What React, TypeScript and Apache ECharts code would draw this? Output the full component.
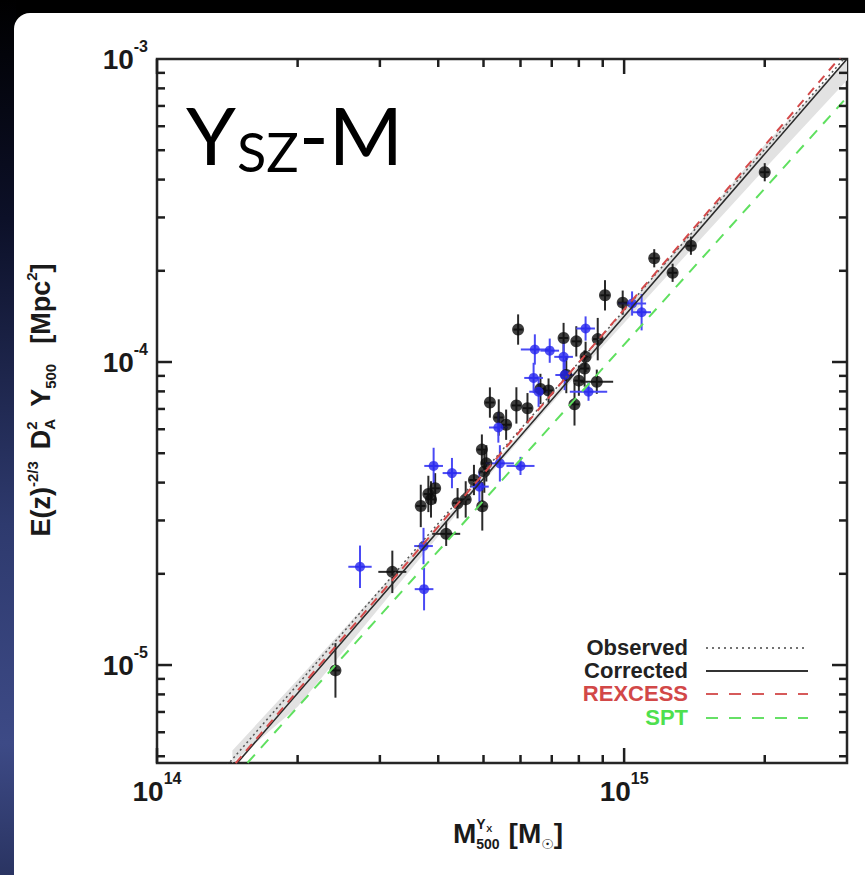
import React, { useEffect, useRef } from "react";
import * as echarts from "echarts";

// ---- axis extents ----
const X_MIN = 1e14;
const X_MAX = 3e15;
const Y_MIN = 4.75e-6;
const Y_MAX = 1e-3;

// ---- black points (mass in 1e14 Msun, Y in 1e-5 Mpc^2, errors in dex) ----
const blackMass14 = [2.41, 3.19, 3.67, 3.81, 3.86, 3.94, 4.16, 4.40, 4.58, 4.77, 4.97, 4.96, 5.02, 5.07, 5.16, 5.39, 5.59, 5.88, 5.93, 6.21, 6.62, 6.89, 7.42, 7.52, 7.83, 7.90, 8.00, 8.23, 8.27, 8.74, 8.78, 9.10, 9.93, 11.6, 12.7, 13.9, 20.0];
const blackY5 = [0.96, 2.03, 3.35, 3.67, 3.52, 3.83, 2.71, 3.42, 3.52, 4.08, 3.34, 5.14, 4.35, 4.63, 7.35, 6.56, 6.21, 7.19, 12.8, 7.04, 8.15, 8.05, 12.0, 9.06, 7.25, 11.7, 8.68, 9.52, 10.4, 8.61, 11.9, 16.6, 15.7, 22.0, 19.7, 24.2, 42.3];
const blackYErr = [0.09, 0.07, 0.07, 0.06, 0.06, 0.05, 0.04, 0.05, 0.06, 0.05, 0.08, 0.05, 0.07, 0.06, 0.05, 0.06, 0.05, 0.06, 0.05, 0.05, 0.05, 0.04, 0.05, 0.06, 0.07, 0.05, 0.05, 0.06, 0.05, 0.04, 0.07, 0.05, 0.04, 0.03, 0.03, 0.03, 0.03];
const blackXErr = [0.01, 0.03, 0.01, 0.01, 0.01, 0.01, 0.03, 0.01, 0.01, 0.01, 0.01, 0.01, 0.01, 0.01, 0.01, 0.01, 0.01, 0.01, 0.01, 0.01, 0.01, 0.01, 0.01, 0.01, 0.01, 0.01, 0.01, 0.01, 0.01, 0.035, 0.01, 0.01, 0.01, 0.01, 0.01, 0.01, 0.01];

// ---- blue points ----
const blueMass14 = [2.72, 3.72, 3.73, 3.91, 4.28, 4.90, 5.38, 5.42, 6.00, 6.44, 6.40, 6.93, 6.56, 7.42, 7.46, 8.27, 8.39, 10.4, 10.9];
const blueY5 = [2.11, 2.47, 1.78, 4.54, 4.30, 3.88, 6.08, 4.63, 4.54, 11.0, 8.86, 10.9, 7.98, 10.4, 9.06, 12.9, 7.98, 15.6, 14.6];
const blueYErr = [0.07, 0.06, 0.07, 0.06, 0.05, 0.05, 0.05, 0.06, 0.03, 0.05, 0.05, 0.04, 0.05, 0.05, 0.05, 0.04, 0.03, 0.04, 0.06];
const blueXErr = [0.025, 0.02, 0.02, 0.02, 0.02, 0.02, 0.02, 0.03, 0.03, 0.03, 0.02, 0.02, 0.02, 0.02, 0.02, 0.02, 0.04, 0.03, 0.02];

// ---- relations: end points ----
const lineMassEnds = [1.2e14, 3e15];
const observedY = [3.5e-6, 1.03e-3];
const correctedY = [3.25e-6, 1.0e-3];
const rexcessY = [3.28e-6, 1.076e-3];
const sptY = [3.03e-6, 7.48e-4];

// ---- confidence band around corrected fit ----
const bandMass = [1.45e14, 2e14, 3e14, 4.5e14, 6e14, 8e14, 1.2e15, 2e15, 3e15];
const bandHi = [5.22e-6, 8.95e-6, 1.78e-5, 3.51e-5, 5.83e-5, 9.8e-5, 2.05e-4, 5.21e-4, 1.08e-3];
const bandLo = [3.96e-6, 7.28e-6, 1.55e-5, 3.32e-5, 5.57e-5, 9.23e-5, 1.83e-4, 4.34e-4, 8.51e-4];

// ---- ticks ----
const xMajorTicks = [1e14, 1e15];
const xMinorTicks = [2e14, 3e14, 4e14, 5e14, 6e14, 7e14, 8e14, 9e14, 2e15];
const yMajorTicks = [1e-5, 1e-4];
const yMinorTicks = [5e-6, 6e-6, 7e-6, 8e-6, 9e-6, 2e-5, 3e-5, 4e-5, 5e-5, 6e-5, 7e-5, 8e-5, 9e-5, 2e-4, 3e-4, 4e-4, 5e-4, 6e-4, 7e-4, 8e-4, 9e-4];

// ---- legend ----
const legendNames = ["Observed", "Corrected", "REXCESS", "SPT"];
const legendColors = ["#222222", "#222222", "#d24848", "#4ee04e"];

const FONT = '"Liberation Sans", Arial, Helvetica, sans-serif';
const GRID = { left: 157, top: 59, width: 690, height: 704 };
const MAJOR_LEN = 15;
const MINOR_LEN = 8;

type Piece = { t: string; s: number; dy?: number; gap?: number; stack?: boolean; dx?: number; fam?: string };

function layout(pieces: Piece[]) {
  const ctx = document.createElement("canvas").getContext("2d")!;
  let u = 0;
  let pend = 0;
  const items: any[] = [];
  for (const p of pieces) {
    ctx.font = `bold ${p.s}px ${p.fam || FONT}`;
    const w = ctx.measureText(p.t).width;
    items.push({ ...p, u: u + (p.dx || 0) });
    if (p.stack) {
      pend = Math.max(pend, w + (p.dx || 0));
      continue;
    }
    u += Math.max(w, pend) + (p.gap || 0);
    pend = 0;
  }
  return { items, width: u };
}

function piecesToGraphic(pieces: Piece[], color: string) {
  const { items, width } = layout(pieces);
  return items.map((it) => ({
    type: "text",
    x: it.u - width / 2,
    y: (it.dy || 0) - 0.3465 * it.s,
    style: {
      text: it.t,
      fill: color,
      font: `bold ${it.s}px ${it.fam || FONT}`,
      align: "left",
      verticalAlign: "middle",
    },
  }));
}

function fmtLog(v: number) {
  const e = Math.log10(v);
  const r = Math.round(e);
  if (Math.abs(e - r) > 1e-6) return "";
  return `{b|10}{s|${r}}`;
}

const labelRich = {
  b: { fontSize: 28, fontWeight: "bold", fontFamily: FONT, color: "#1a1a1a", lineHeight: 42 },
  s: { fontSize: 16, fontWeight: "bold", fontFamily: FONT, color: "#1a1a1a", lineHeight: 16, verticalAlign: "top" },
};

// log-axis position of a tick along the grid (same mapping as the chart's log axes)
const xFrac = (v: number) => Math.log10(v / X_MIN) / Math.log10(X_MAX / X_MIN);
const yFrac = (v: number) => Math.log10(v / Y_MIN) / Math.log10(Y_MAX / Y_MIN);

function buildTickGraphics() {
  const out: any[] = [];
  const st = { stroke: "#1f1f1f", lineWidth: 2.5 };
  const bottom = GRID.top + GRID.height;
  const right = GRID.left + GRID.width;
  const xt = (v: number, len: number) => {
    const x = GRID.left + xFrac(v) * GRID.width;
    out.push({ type: "line", z: 200, silent: true, shape: { x1: x, y1: bottom, x2: x, y2: bottom - len }, style: st });
    out.push({ type: "line", z: 200, silent: true, shape: { x1: x, y1: GRID.top, x2: x, y2: GRID.top + len }, style: st });
  };
  const yt = (v: number, len: number) => {
    const y = bottom - yFrac(v) * GRID.height;
    out.push({ type: "line", z: 200, silent: true, shape: { x1: GRID.left, y1: y, x2: GRID.left + len, y2: y }, style: st });
    out.push({ type: "line", z: 200, silent: true, shape: { x1: right, y1: y, x2: right - len, y2: y }, style: st });
  };
  xMajorTicks.forEach((v) => xt(v, MAJOR_LEN));
  xMinorTicks.forEach((v) => xt(v, MINOR_LEN));
  yMajorTicks.forEach((v) => yt(v, MAJOR_LEN));
  yMinorTicks.forEach((v) => yt(v, MINOR_LEN));
  return out;
}

export default function App() {
  const ref = useRef<HTMLDivElement>(null);

  useEffect(() => {
    document.body.style.margin = "0";
    document.body.style.background = "#000";
    const chart = echarts.init(ref.current!, null, { renderer: "svg" });

    const blackData = blackMass14.map((m, i) => [m * 1e14, blackY5[i] * 1e-5, blackYErr[i], blackXErr[i]]);
    const blueData = blueMass14.map((m, i) => [m * 1e14, blueY5[i] * 1e-5, blueYErr[i], blueXErr[i]]);

    const errRender = (color: string) => (params: any, api: any) => {
      const m = api.value(0);
      const y = api.value(1);
      const fy = Math.pow(10, api.value(2));
      const fx = Math.pow(10, api.value(3));
      const t = api.coord([m, y * fy]);
      const b = api.coord([m, y / fy]);
      const l = api.coord([m / fx, y]);
      const r = api.coord([m * fx, y]);
      return {
        type: "group",
        children: [
          { type: "line", shape: { x1: t[0], y1: t[1], x2: b[0], y2: b[1] }, style: { stroke: color, lineWidth: 2 } },
          { type: "line", shape: { x1: l[0], y1: l[1], x2: r[0], y2: r[1] }, style: { stroke: color, lineWidth: 2 } },
        ],
      };
    };

    const lineSeries = (name: string, ys: number[], color: string, type: any, width: number, z: number) => ({
      name,
      type: "line",
      data: lineMassEnds.map((m, i) => [m, ys[i]]),
      showSymbol: false,
      symbol: "none",
      clip: true,
      z,
      lineStyle: { color, width, type },
      silent: true,
    });

    const yTitle: Piece[] = [
      { t: "E(z)", s: 27 },
      { t: "-2/3", s: 15, dy: -12, gap: 12 },
      { t: "D", s: 27 },
      { t: "2", s: 15, dy: -13, stack: true },
      { t: "A", s: 15, dy: 5, gap: 12 },
      { t: "Y", s: 27 },
      { t: "500", s: 15, dy: 6, gap: 20 },
      { t: "[Mpc", s: 27 },
      { t: "2", s: 15, dy: -13 },
      { t: "]", s: 27 },
    ];
    const xTitle: Piece[] = [
      { t: "M", s: 28 },
      { t: "Y", s: 14, dy: -14, stack: true },
      { t: "X", s: 9, dy: -11, dx: 10, stack: true },
      { t: "500", s: 14, dy: 6, gap: 9 },
      { t: "[M", s: 28 },
      { t: "\u2609", s: 14, dy: 6, fam: '"DejaVu Sans", sans-serif' },
      { t: "]", s: 28 },
    ];

    const legendRows = [647, 670, 693, 717];
    const legendGraphics: any[] = [];
    legendNames.forEach((n, i) => {
      legendGraphics.push({
        type: "text",
        x: 688,
        y: legendRows[i],
        z: 100,
        style: { text: n, fill: legendColors[i], font: `bold 22px ${FONT}`, lineHeight: 21, align: "right", verticalAlign: "middle" },
      });
    });
    const legendLineStyles = [
      { stroke: "#444", lineWidth: 1.5, lineDash: [2, 4] },
      { stroke: "#333", lineWidth: 2 },
      { stroke: "#d65a5a", lineWidth: 2, lineDash: [12, 11] },
      { stroke: "#66e066", lineWidth: 2, lineDash: [12, 11] },
    ];
    legendLineStyles.forEach((st, i) => {
      legendGraphics.push({
        type: "line",
        z: 100,
        shape: { x1: 706, y1: legendRows[i] + 1, x2: 808, y2: legendRows[i] + 1 },
        style: st,
      });
    });

    const option: any = {
      animation: false,
      backgroundColor: "#000",
      grid: { ...GRID, show: true, borderColor: "#262626", borderWidth: 2.5, backgroundColor: "transparent" },
      xAxis: {
        type: "log",
        logBase: 10,
        min: X_MIN,
        max: X_MAX,
        axisLine: { show: false },
        axisTick: { show: false },
        splitLine: { show: false },
        axisLabel: { formatter: fmtLog, margin: 7, rich: labelRich, showMinLabel: true, showMaxLabel: true },
      },
      yAxis: {
        type: "log",
        logBase: 10,
        min: Y_MIN,
        max: Y_MAX,
        axisLine: { show: false },
        axisTick: { show: false },
        splitLine: { show: false },
        axisLabel: { formatter: fmtLog, margin: 9, rich: labelRich, showMinLabel: true, showMaxLabel: true },
      },
      graphic: [
        {
          type: "rect",
          z: -100,
          silent: true,
          shape: { x: 0, y: 0, width: 16, height: 875 },
          style: {
            fill: new echarts.graphic.LinearGradient(0, 0, 0, 1, [
              { offset: 0, color: "#000000" },
              { offset: 0.25, color: "#0c1028" },
              { offset: 0.6, color: "#2e3a6e" },
              { offset: 0.85, color: "#3d4a86" },
              { offset: 1, color: "#2a3462" },
            ]),
          },
        },
        {
          type: "rect",
          z: -90,
          silent: true,
          shape: { x: 14, y: 13, width: 851, height: 862, r: [16, 0, 0, 0] },
          style: { fill: "#ffffff" },
        },
        { type: "text", x: 186, y: 134, z: 100, style: { text: "Y", fill: "#000", font: `80px Lato, "Open Sans", sans-serif`, align: "left", verticalAlign: "middle" } },
        { type: "text", x: 237, y: 151, z: 100, style: { text: "SZ", fill: "#000", font: `54px Lato, "Open Sans", sans-serif`, align: "left", verticalAlign: "middle" } },
        { type: "text", x: 299, y: 134, z: 100, style: { text: "-M", fill: "#000", font: `80px Lato, "Open Sans", sans-serif`, align: "left", verticalAlign: "middle" } },
        { type: "group", x: 50, y: 400, rotation: Math.PI / 2, z: 100, children: piecesToGraphic(yTitle, "#1a1a1a") },
        { type: "group", x: 508, y: 843, z: 100, children: piecesToGraphic(xTitle, "#1a1a1a") },
        ...legendGraphics,
        ...buildTickGraphics(),
      ],
      series: [
        {
          type: "custom",
          name: "band",
          z: 1,
          silent: true,
          data: [[bandMass[0], bandLo[0]]],
          renderItem: (params: any, api: any) => {
            const top = api.coord([X_MIN, Y_MAX])[1];
            const bot = api.coord([X_MIN, Y_MIN])[1];
            const clampY = (p: number[]) => [p[0], Math.min(bot, Math.max(top, p[1]))];
            const pts: number[][] = [];
            bandMass.forEach((m, i) => pts.push(clampY(api.coord([m, bandHi[i]]))));
            for (let i = bandMass.length - 1; i >= 0; i--) pts.push(clampY(api.coord([bandMass[i], bandLo[i]])));
            return { type: "polygon", shape: { points: pts }, style: { fill: "#e2e2e2" } };
          },
        },
        {
          type: "custom",
          name: "blackErr",
          z: 2,
          silent: true,
          dimensions: ["m", "yv", "ey", "ex"],
          encode: { x: 0, y: 1 },
          data: blackData,
          renderItem: errRender("#2a2a2a"),
        },
        {
          type: "custom",
          name: "blueErr",
          z: 2,
          silent: true,
          dimensions: ["m", "yv", "ey", "ex"],
          encode: { x: 0, y: 1 },
          data: blueData,
          renderItem: errRender("#4a4af5"),
        },
        {
          type: "scatter",
          name: "black",
          z: 3,
          symbol: "circle",
          symbolSize: 12,
          itemStyle: { color: "#0d0d0d" },
          data: blackData.map((d) => [d[0], d[1]]),
        },
        {
          type: "scatter",
          name: "blue",
          z: 3,
          symbol: "circle",
          symbolSize: 10,
          itemStyle: { color: "#2626ee" },
          data: blueData.map((d) => [d[0], d[1]]),
        },
        lineSeries("SPT", sptY, "#5fe05f", [11, 9], 2, 4),
        lineSeries("Corrected", correctedY, "#2a2a2a", "solid", 1.6, 5),
        lineSeries("Observed", observedY, "#555555", [2, 3], 1.5, 5),
        lineSeries("REXCESS", rexcessY, "#d44a4a", [9, 7], 2, 6),
      ],
    };

    chart.setOption(option);
    return () => chart.dispose();
  }, []);

  return <div ref={ref} style={{ width: 865, height: 875 }} />;
}
